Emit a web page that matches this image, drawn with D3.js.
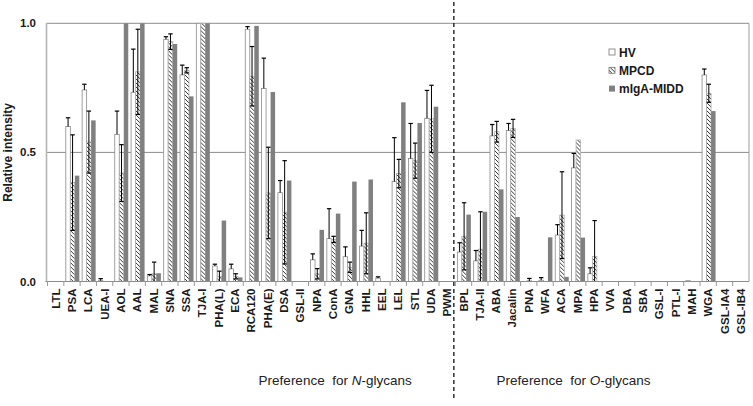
<!DOCTYPE html>
<html>
<head>
<meta charset="utf-8">
<script src="https://cdn.jsdelivr.net/npm/d3@7"></script>
<style>
  body { margin: 0; background: #fff; }
  text { font-family: "Liberation Sans", Arial, sans-serif; }
</style>
</head>
<body>
<svg id="chart" width="753" height="406"></svg>
<script>
// lectins, N-glycan group first then O-glycan group
var nLectins = ["LTL","PSA","LCA","UEA-I","AOL","AAL","MAL","SNA","SSA","TJA-I","PHA(L)","ECA","RCA120","PHA(E)","DSA","GSL-II","NPA","ConA","GNA","HHL","EEL","LEL","STL","UDA","PWM"];
var oLectins = ["BPL","TJA-II","ABA","Jacalin","PNA","WFA","ACA","MPA","HPA","VVA","DBA","SBA","GSL-I","PTL-I","MAH","WGA","GSL-IA4","GSL-IB4"];
var lectins = nLectins.concat(oLectins);

var seriesNames = ["HV", "MPCD", "mIgA-MIDD"];

var hv = [0,0.60,0.742,0.003,0.57,0.733,0.022,0.938,0.80,1.0,0.06,0.049,0.977,0.748,0.344,0,0.084,0.166,0.096,0.137,0.013,0.387,0.476,0.632,0,
  0.114,0.08,0.564,0.585,0,0.005,0.18,0.44,0.03,0,0,0,0,0,0.003,0.80,0,0];
var hvErr = [0,0.034,0.022,0.008,0.09,0.167,0.005,0.01,0.038,0,0.007,0.018,0.01,0.117,0.047,0,0.023,0.116,0.038,0.061,0.005,0.17,0.136,0.108,0,
  0.036,0.04,0.044,0.027,0,0.01,0.04,0.056,0.023,0,0,0,0,0,0,0.023,0,0];

var mpcd = [0,0.383,0.54,0,0.42,0.812,0.03,0.929,0.818,1.0,0.02,0.02,0.795,0.343,0.268,0,0.03,0.163,0.055,0.148,0,0.418,0.468,0.63,0,
  0.175,0.125,0.58,0.593,0.005,0,0.257,0.548,0.097,0,0,0,0,0,0,0.729,0,0];
var mpcdErr = [0,0.185,0.12,0,0.11,0.165,0.045,0.03,0.01,0,0.02,0.01,0.115,0.177,0.2,0,0.02,0.012,0.02,0.118,0,0.055,0.068,0.13,0,
  0.13,0.145,0.04,0.035,0.007,0,0.168,0,0.139,0,0,0,0,0,0,0.035,0,0];

var miga = [0,0.41,0.624,0,1.0,1.0,0.032,0.92,0.717,1.0,0.236,0.016,0.99,0.734,0.391,0,0.2,0.263,0.387,0.395,0,0.694,0.614,0.677,0,
  0.259,0.27,0.357,0.25,0,0.171,0.018,0.17,0,0,0,0,0,0,0,0.66,0,0];

var yTicks = [0, 0.5, 1.0];

var svg = d3.select("#chart");
var margin = {left: 47.5, right: 4, top: 23.3, bottom: 124.5};
var W = 753, H = 406;

var x = d3.scaleBand().domain(lectins).range([margin.left, W - margin.right]);
var xSub = d3.scaleBand().domain(seriesNames).range([2.0, x.step() - 0.8]);
var y = d3.scaleLinear().domain([0, 1]).range([H - margin.bottom, margin.top]);

// hatch for MPCD
var defs = svg.append("defs");
var pat = defs.append("pattern").attr("id", "hatch")
  .attr("patternUnits", "userSpaceOnUse").attr("width", 4).attr("height", 4);
pat.append("rect").attr("width", 4).attr("height", 4).attr("fill", "#fff");
pat.append("path").attr("d", "M-1,-1 L5,5 M-1,3 L1,5 M3,-1 L5,1")
  .attr("stroke", "#333").attr("stroke-width", 1);

// grid
svg.append("g").selectAll("line").data(yTicks.filter(d => d > 0)).enter().append("line")
  .attr("x1", margin.left - 1).attr("x2", W - margin.right)
  .attr("y1", d => y(d)).attr("y2", d => y(d))
  .attr("stroke", "#8c8c8c").attr("stroke-width", 1);

// right border
svg.append("line").attr("x1", W - margin.right).attr("x2", W - margin.right)
  .attr("y1", y(1)).attr("y2", y(0)).attr("stroke", "#9c9c9c");

var rows = lectins.map((k, i) => ({
  key: k,
  vals: [
    {s: "HV", v: hv[i], e: hvErr[i]},
    {s: "MPCD", v: mpcd[i], e: mpcdErr[i]},
    {s: "mIgA-MIDD", v: miga[i], e: 0}
  ]
}));

var fills = {"HV": "#fff", "MPCD": "url(#hatch)", "mIgA-MIDD": "#808080"};
var strokes = {"HV": "#8a8a8a", "MPCD": "#b0b0b0", "mIgA-MIDD": "none"};

var groups = svg.append("g").selectAll("g").data(rows).enter().append("g")
  .attr("transform", d => `translate(${x(d.key)},0)`);

groups.selectAll("rect").data(d => d.vals.filter(v => v.v > 0)).enter().append("rect")
  .attr("x", d => xSub(d.s))
  .attr("width", xSub.bandwidth())
  .attr("y", d => y(d.v))
  .attr("height", d => y(0) - y(d.v))
  .attr("fill", d => fills[d.s])
  .attr("stroke", d => strokes[d.s])
  .attr("stroke-width", 0.8);

// error bars: HV plus only, MPCD both ways
var errs = groups.selectAll("g.err").data(d => d.vals.filter(v => v.e > 0)).enter().append("g")
  .attr("class", "err")
  .attr("transform", d => `translate(${xSub(d.s) + xSub.bandwidth() / 2},0)`);
errs.append("line")
  .attr("y1", d => y(d.s === "HV" ? d.v : Math.max(0, d.v - d.e)))
  .attr("y2", d => y(d.v + d.e))
  .attr("stroke", "#000").attr("stroke-width", 1);
errs.append("line")
  .attr("x1", -2.2).attr("x2", 2.2)
  .attr("y1", d => y(d.v + d.e)).attr("y2", d => y(d.v + d.e))
  .attr("stroke", "#000").attr("stroke-width", 1.2);
errs.filter(d => d.s === "MPCD" && d.v - d.e > 0).append("line")
  .attr("x1", -2.2).attr("x2", 2.2)
  .attr("y1", d => y(d.v - d.e)).attr("y2", d => y(d.v - d.e))
  .attr("stroke", "#000").attr("stroke-width", 1.2);

// axes
svg.append("line").attr("x1", margin.left - 1).attr("x2", margin.left - 1)
  .attr("y1", y(1)).attr("y2", y(0)).attr("stroke", "#b4b4b4").attr("stroke-width", 1.6);

var xAxis = svg.append("g").attr("transform", `translate(0,${y(0)})`)
  .call(d3.axisBottom(x).tickSize(0).tickPadding(0));
xAxis.select(".domain").attr("stroke", "#8c8c8c").attr("d", `M${margin.left - 2},0H${W - margin.right}`);
xAxis.selectAll(".tick text").remove();
svg.append("g").selectAll("line").data(lectins).enter().append("line")
  .attr("x1", d => x(d)).attr("x2", d => x(d))
  .attr("y1", y(0)).attr("y2", y(0) + 4.5)
  .attr("stroke", "#999");

svg.append("g").selectAll("text").data(lectins).enter().append("text")
  .attr("transform", d => `translate(${x(d) + x.bandwidth() / 2 + 4},${y(0) + 7}) rotate(-90)`)
  .attr("text-anchor", "end")
  .attr("font-size", 11.5).attr("font-weight", "bold").attr("fill", "#1a1a1a")
  .text(d => d);

svg.append("g").selectAll("text").data(yTicks).enter().append("text")
  .attr("x", 36).attr("y", d => y(d) + 4)
  .attr("text-anchor", "end")
  .attr("font-size", 11.5).attr("font-weight", "bold").attr("fill", "#1a1a1a")
  .text(d => d.toFixed(1));

svg.append("text")
  .attr("transform", `translate(12,${(y(0) + y(1)) / 2}) rotate(-90)`)
  .attr("text-anchor", "middle")
  .attr("font-size", 12).attr("font-weight", "bold").attr("fill", "#1a1a1a")
  .text("Relative intensity");

// divider between N- and O-glycan lectins
var divX = x("BPL") - 1.5;
svg.append("line").attr("x1", divX).attr("x2", divX)
  .attr("y1", 2).attr("y2", 400)
  .attr("stroke", "#111").attr("stroke-width", 1.3).attr("stroke-dasharray", "4,3");

function groupLabel(cx, letter) {
  var t = svg.append("text").attr("x", cx).attr("y", 385)
    .attr("text-anchor", "middle").attr("font-size", 13.5).attr("fill", "#222")
    .attr("xml:space", "preserve");
  t.append("tspan").text("Preference  for ");
  t.append("tspan").attr("font-style", "italic").text(letter);
  t.append("tspan").text("-glycans");
}
groupLabel(x("GNA") - 6, "N");
groupLabel(x("MPA") + 4, "O");

// legend
var leg = svg.append("g").attr("transform", "translate(609,52)");
var li = leg.selectAll("g").data(seriesNames).enter().append("g")
  .attr("transform", (d, i) => `translate(0,${i * 18.3})`);
li.append("rect").attr("x", 0).attr("y", -3).attr("width", 6).attr("height", 6)
  .attr("fill", d => fills[d]).attr("stroke", d => d === "mIgA-MIDD" ? "none" : "#777").attr("stroke-width", 0.8);
li.append("text").attr("x", 10).attr("y", 4.5)
  .attr("font-size", 12).attr("font-weight", "bold").attr("fill", "#1a1a1a")
  .text(d => d);
</script>
</body>
</html>
